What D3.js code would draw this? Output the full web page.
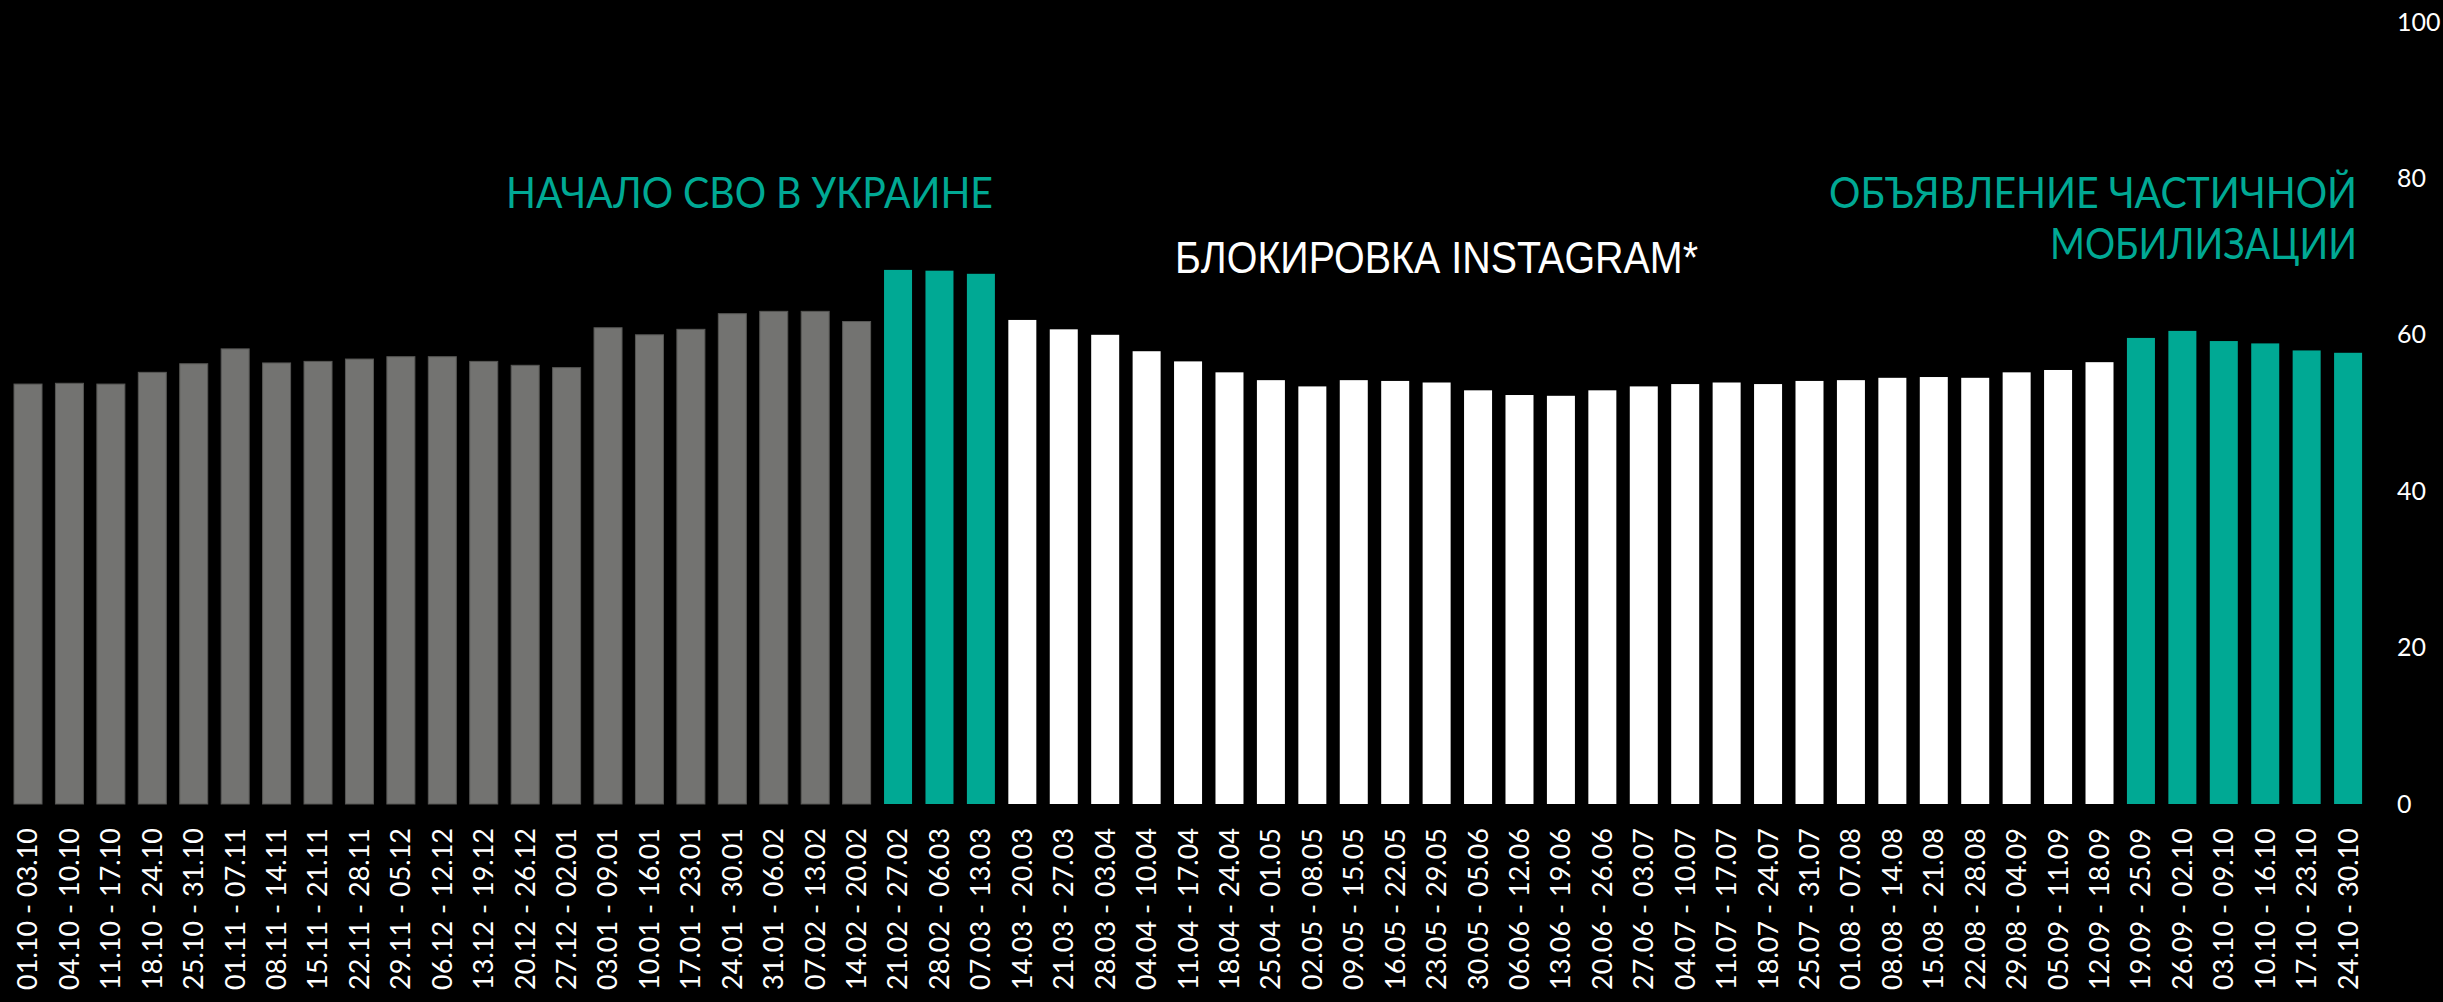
<!DOCTYPE html>
<html>
<head>
<meta charset="utf-8">
<script src="https://cdn.jsdelivr.net/npm/d3@7"></script>
<style>
  body { margin: 0; background: #000; }
  svg { display: block; }
  .tick text { fill: #fff; }
</style>
</head>
<body>
<script>
// weekly periods
var periods = [
  "01.10 - 03.10","04.10 - 10.10","11.10 - 17.10","18.10 - 24.10","25.10 - 31.10",
  "01.11 - 07.11","08.11 - 14.11","15.11 - 21.11","22.11 - 28.11","29.11 - 05.12",
  "06.12 - 12.12","13.12 - 19.12","20.12 - 26.12","27.12 - 02.01","03.01 - 09.01",
  "10.01 - 16.01","17.01 - 23.01","24.01 - 30.01","31.01 - 06.02","07.02 - 13.02",
  "14.02 - 20.02","21.02 - 27.02","28.02 - 06.03","07.03 - 13.03","14.03 - 20.03",
  "21.03 - 27.03","28.03 - 03.04","04.04 - 10.04","11.04 - 17.04","18.04 - 24.04",
  "25.04 - 01.05","02.05 - 08.05","09.05 - 15.05","16.05 - 22.05","23.05 - 29.05",
  "30.05 - 05.06","06.06 - 12.06","13.06 - 19.06","20.06 - 26.06","27.06 - 03.07",
  "04.07 - 10.07","11.07 - 17.07","18.07 - 24.07","25.07 - 31.07","01.08 - 07.08",
  "08.08 - 14.08","15.08 - 21.08","22.08 - 28.08","29.08 - 04.09","05.09 - 11.09",
  "12.09 - 18.09","19.09 - 25.09","26.09 - 02.10","03.10 - 09.10","10.10 - 16.10",
  "17.10 - 23.10","24.10 - 30.10"
];

var values = [
  53.7, 53.8, 53.7, 55.2, 56.3, 58.2, 56.4, 56.6, 56.9, 57.2,
  57.2, 56.6, 56.1, 55.8, 60.9, 60.0, 60.7, 62.7, 63.0, 63.0,
  61.7, 68.3, 68.2, 67.8, 61.9, 60.7, 60.0, 57.9, 56.6, 55.2,
  54.2, 53.4, 54.2, 54.1, 53.9, 52.9, 52.3, 52.2, 52.9, 53.4,
  53.7, 53.9, 53.7, 54.1, 54.2, 54.5, 54.6, 54.5, 55.2, 55.5,
  56.5, 59.6, 60.5, 59.2, 58.9, 58.0, 57.7
];

// period kind: 0 = before, 1 = event, 2 = after
var kinds = [
  0,0,0,0,0,0,0,0,0,0, 0,0,0,0,0,0,0,0,0,0,
  0,1,1,1,2,2,2,2,2,2, 2,2,2,2,2,2,2,2,2,2,
  2,2,2,2,2,2,2,2,2,2, 2,1,1,1,1,1,1
];

var yTicks = [0, 20, 40, 60, 80, 100];

var notes = [
  {text: "НАЧАЛО СВО В УКРАИНЕ", x: 993, y: 208, len: 487, color: "#00a994", font: "Lato", size: 42},
  {text: "БЛОКИРОВКА INSTAGRAM*", x: 1698, y: 273, len: 523, color: "#ffffff", font: "'Liberation Sans Narrow', 'Liberation Sans'", size: 44},
  {text: "ОБЪЯВЛЕНИЕ ЧАСТИЧНОЙ", x: 2357, y: 208, len: 528, color: "#00a994", font: "Lato", size: 42},
  {text: "МОБИЛИЗАЦИИ", x: 2357, y: 259, len: 307, color: "#00a994", font: "Lato", size: 42}
];

var colors = ["#737371", "#00a994", "#ffffff"];

var width = 2443, height = 1002;

var svg = d3.select("body").append("svg")
    .attr("width", width)
    .attr("height", height)
    .style("background", "#000");

// scales
var x = d3.scaleBand()
    .domain(periods)
    .range([7.3, 2368.8])
    .paddingInner(0.324)
    .paddingOuter(0.162);

var y = d3.scaleLinear()
    .domain([0, 100])
    .range([804, 22]);

// bars
svg.selectAll(".bar")
    .data(periods)
    .enter().append("rect")
    .attr("class", "bar")
    .attr("x", function(d) { return x(d); })
    .attr("width", x.bandwidth())
    .attr("y", function(d, i) { return y(values[i]); })
    .attr("height", function(d, i) { return y(0) - y(values[i]); })
    .style("fill", function(d, i) { return colors[kinds[i]]; })
    .style("stroke", function(d, i) { return kinds[i] == 0 ? "#575755" : "none"; })
    .style("stroke-width", 1);

// x axis, rotated labels
var xg = svg.append("g")
    .attr("transform", "translate(0," + y(0) + ")")
    .call(d3.axisBottom(x).tickSize(0));
xg.select(".domain").remove();
xg.selectAll("text")
    .attr("transform", "rotate(-90)")
    .attr("x", -24)
    .attr("y", 0)
    .attr("dy", "0.35em")
    .style("text-anchor", "end")
    .style("font-family", "Lato")
    .style("font-size", "27px");

// y axis on the right
var yg = svg.append("g")
    .attr("transform", "translate(2397,0)")
    .call(d3.axisRight(y).tickValues(yTicks).tickSize(0).tickPadding(0));
yg.select(".domain").remove();
yg.selectAll("text")
    .style("font-family", "Lato")
    .style("font-size", "25px");

// annotations
svg.selectAll(".note")
    .data(notes)
    .enter().append("text")
    .attr("class", "note")
    .attr("x", function(d) { return d.x; })
    .attr("y", function(d) { return d.y; })
    .attr("textLength", function(d) { return d.len; })
    .attr("lengthAdjust", "spacingAndGlyphs")
    .style("text-anchor", "end")
    .style("font-family", function(d) { return d.font; })
    .style("font-size", function(d) { return d.size + "px"; })
    .style("fill", function(d) { return d.color; })
    .text(function(d) { return d.text; });
</script>
</body>
</html>
